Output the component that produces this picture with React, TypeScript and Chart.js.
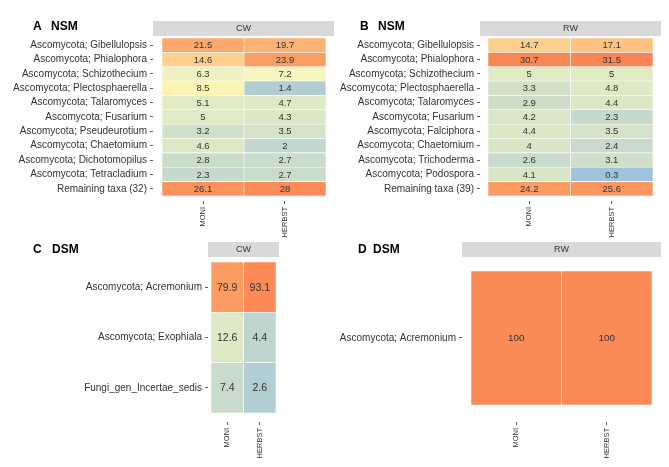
import React, { useEffect, useRef } from 'react';
import { Chart, registerables } from 'chart.js';

Chart.register(...registerables);

// ---------------- data ----------------
const samples = ['MONI', 'HERBST'];

const taxaA = [
  'Ascomycota; Gibellulopsis',
  'Ascomycota; Phialophora',
  'Ascomycota; Schizothecium',
  'Ascomycota; Plectosphaerella',
  'Ascomycota; Talaromyces',
  'Ascomycota; Fusarium',
  'Ascomycota; Pseudeurotium',
  'Ascomycota; Chaetomium',
  'Ascomycota; Dichotomopilus',
  'Ascomycota; Tetracladium',
  'Remaining taxa (32)',
];
const moniA = [21.5, 14.6, 6.3, 8.5, 5.1, 5, 3.2, 4.6, 2.8, 2.3, 26.1];
const herbstA = [19.7, 23.9, 7.2, 1.4, 4.7, 4.3, 3.5, 2, 2.7, 2.7, 28];

const taxaB = [
  'Ascomycota; Gibellulopsis',
  'Ascomycota; Phialophora',
  'Ascomycota; Schizothecium',
  'Ascomycota; Plectosphaerella',
  'Ascomycota; Talaromyces',
  'Ascomycota; Fusarium',
  'Ascomycota; Falciphora',
  'Ascomycota; Chaetomium',
  'Ascomycota; Trichoderma',
  'Ascomycota; Podospora',
  'Remaining taxa (39)',
];
const moniB = [14.7, 30.7, 5, 3.3, 2.9, 4.2, 4.4, 4, 2.6, 4.1, 24.2];
const herbstB = [17.1, 31.5, 5, 4.8, 4.4, 2.3, 3.5, 2.4, 3.1, 0.3, 25.6];

const taxaC = ['Ascomycota; Acremonium', 'Ascomycota; Exophiala', 'Fungi_gen_Incertae_sedis'];
const moniC = [79.9, 12.6, 7.4];
const herbstC = [93.1, 4.4, 2.6];

const taxaD = ['Ascomycota; Acremonium'];
const moniD = [100];
const herbstD = [100];

// ---------------- colour scales ----------------
type Stop = [number, string];
const nsmStops: Stop[] = [
  [0.3, '#9ec4dd'],
  [1.4, '#b3ced3'],
  [2.0, '#c2d8cf'],
  [2.7, '#cadcca'],
  [3.4, '#d3e1c8'],
  [4.5, '#dde8c6'],
  [5.1, '#e1eac5'],
  [6.3, '#eef1c2'],
  [7.2, '#f6f4bf'],
  [8.5, '#fdf4b1'],
  [14.6, '#fdd08e'],
  [21.5, '#fca86c'],
  [28, '#fb8b57'],
  [31.5, '#f98455'],
];
const dsmStops: Stop[] = [
  [2.6, '#b2cdd3'],
  [4.4, '#bed5d0'],
  [7.4, '#c9dccb'],
  [12.6, '#deeac6'],
  [40, '#fdd08e'],
  [79.9, '#fc9c63'],
  [93.1, '#fb8a56'],
  [100, '#fa8b57'],
];

function hexToRgb(h: string): number[] {
  const n = parseInt(h.slice(1), 16);
  return [(n >> 16) & 255, (n >> 8) & 255, n & 255];
}
function colorFor(v: number, stops: Stop[]): string {
  if (v <= stops[0][0]) return stops[0][1];
  for (let i = 1; i < stops.length; i++) {
    if (v <= stops[i][0]) {
      const [v0, c0] = stops[i - 1];
      const [v1, c1] = stops[i];
      const t = (v - v0) / (v1 - v0);
      const a = hexToRgb(c0);
      const b = hexToRgb(c1);
      const m = a.map((x, k) => Math.round(x + (b[k] - x) * t));
      return `rgb(${m[0]},${m[1]},${m[2]})`;
    }
  }
  return stops[stops.length - 1][1];
}

// ---------------- panel layout ----------------
interface PanelCfg {
  letter: string;
  word: string;
  strip: string;
  taxa: string[];
  values: number[][];
  stops: Stop[];
  box: { left: number; top: number; width: number; height: number };
  area: { left: number; right: number; top: number; bottom: number };
  xPad: [number, number];
  yPad: [number, number];
  letterX: number;
  wordX: number;
  titleBase: number;
  cellFont: number;
}

const panels: PanelCfg[] = [
  {
    letter: 'A', word: 'NSM', strip: 'CW', taxa: taxaA, values: [moniA, herbstA], stops: nsmStops,
    box: { left: 0, top: 0, width: 335, height: 240 },
    area: { left: 153, right: 334, top: 37, bottom: 201 },
    xPad: [0.11, 0.098], yPad: [0.07, 0.35],
    letterX: 33, wordX: 51, titleBase: 30, cellFont: 9.5,
  },
  {
    letter: 'B', word: 'NSM', strip: 'RW', taxa: taxaB, values: [moniB, herbstB], stops: nsmStops,
    box: { left: 335, top: 0, width: 334, height: 240 },
    area: { left: 145, right: 326, top: 37, bottom: 201 },
    xPad: [0.097, 0.097], yPad: [0.07, 0.35],
    letterX: 25, wordX: 43, titleBase: 30, cellFont: 9.5,
  },
  {
    letter: 'C', word: 'DSM', strip: 'CW', taxa: taxaC, values: [moniC, herbstC], stops: dsmStops,
    box: { left: 0, top: 235, width: 335, height: 232 },
    area: { left: 208, right: 279, top: 23, bottom: 187 },
    xPad: [0.092, 0.092], yPad: [0.079, 0.179],
    letterX: 33, wordX: 52, titleBase: 17.5, cellFont: 10.5,
  },
  {
    letter: 'D', word: 'DSM', strip: 'RW', taxa: taxaD, values: [moniD, herbstD], stops: dsmStops,
    box: { left: 335, top: 235, width: 334, height: 232 },
    area: { left: 127, right: 326, top: 23, bottom: 187 },
    xPad: [0.0994, 0.0994], yPad: [0.097, 0.127],
    letterX: 23, wordX: 38, titleBase: 17.5, cellFont: 9.8,
  },
];

const FONT = '"Liberation Sans", Arial, Helvetica, sans-serif';
const TEXT = '#333333';

function Panel({ cfg }: { cfg: PanelCfg }) {
  const ref = useRef<HTMLCanvasElement | null>(null);

  useEffect(() => {
    if (!ref.current) return;
    const n = cfg.taxa.length;

    const decor = {
      id: 'decor' + cfg.letter,
      beforeDraw(chart: any) {
        const { ctx, chartArea } = chart;
        ctx.save();
        // facet strip
        ctx.fillStyle = '#d9d9d9';
        ctx.fillRect(chartArea.left, chartArea.top - 16, chartArea.right - chartArea.left, 15);
        ctx.fillStyle = TEXT;
        ctx.font = `9px ${FONT}`;
        ctx.textAlign = 'center';
        ctx.textBaseline = 'middle';
        ctx.fillText(cfg.strip, (chartArea.left + chartArea.right) / 2, chartArea.top - 8.5);
        // panel title
        ctx.fillStyle = '#000000';
        ctx.font = `bold 12px ${FONT}`;
        ctx.textAlign = 'left';
        ctx.textBaseline = 'alphabetic';
        ctx.fillText(cfg.letter, cfg.letterX, cfg.titleBase);
        ctx.fillText(cfg.word, cfg.wordX, cfg.titleBase);
        ctx.restore();
      },
      afterDatasetsDraw(chart: any) {
        const ctx = chart.ctx;
        ctx.save();
        ctx.font = `${cfg.cellFont}px ${FONT}`;
        ctx.fillStyle = TEXT;
        ctx.textAlign = 'center';
        ctx.textBaseline = 'middle';
        chart.data.datasets.forEach((_: any, j: number) => {
          const meta = chart.getDatasetMeta(j);
          meta.data.forEach((el: any, i: number) => {
            const p = el.getCenterPoint();
            ctx.fillText(String(cfg.values[j][i]), p.x, p.y + 0.5);
          });
        });
        ctx.restore();
      },
    };

    const datasets = samples.map((s, j) => ({
      label: s,
      data: cfg.taxa.map((_, i) => ({ x: j + 0.5, y: [i, i + 1] })),
      backgroundColor: cfg.values[j].map((v) => colorFor(v, cfg.stops)),
      borderColor: '#ffffff',
      borderWidth: 0.6,
      borderSkipped: false,
      grouped: false,
      barPercentage: 1,
      categoryPercentage: 1,
    }));

    const chart = new Chart(ref.current, {
      type: 'bar',
      data: { datasets: datasets as any },
      plugins: [decor],
      options: {
        responsive: false,
        animation: false,
        events: [],
        layout: {
          padding: {
            left: 0,
            top: cfg.area.top,
            right: cfg.box.width - cfg.area.right,
            bottom: 0,
          },
        },
        plugins: {
          legend: { display: false },
          tooltip: { enabled: false },
          title: { display: false },
        },
        scales: {
          x: {
            type: 'linear',
            bounds: 'data',
            offset: false,
            min: -cfg.xPad[0],
            max: samples.length + cfg.xPad[1],
            afterBuildTicks: (scale: any) => {
              scale.ticks = samples.map((_, i) => ({ value: i + 0.5 }));
            },
            afterFit: (scale: any) => {
              scale.height = cfg.box.height - cfg.area.bottom;
            },
            ticks: {
              autoSkip: false,
              minRotation: 90,
              maxRotation: 90,
              padding: 3,
              color: TEXT,
              font: { size: 7.5, family: FONT },
              callback: (v: any) => samples[Math.round(Number(v) - 0.5)] ?? '',
            },
            grid: {
              offset: false,
              drawOnChartArea: false,
              drawTicks: true,
              tickLength: 3,
              color: TEXT,
              lineWidth: 0.8,
            },
            border: { display: false },
          },
          y: {
            type: 'linear',
            bounds: 'data',
            reverse: true,
            offset: false,
            min: -cfg.yPad[0],
            max: n + cfg.yPad[1],
            afterBuildTicks: (scale: any) => {
              scale.ticks = cfg.taxa.map((_, i) => ({ value: i + 0.5 }));
            },
            afterFit: (scale: any) => {
              scale.width = cfg.area.left;
            },
            ticks: {
              autoSkip: false,
              padding: 3,
              color: TEXT,
              font: { size: 10, family: FONT },
              callback: (v: any) => cfg.taxa[Math.round(Number(v) - 0.5)] ?? '',
            },
            grid: {
              offset: false,
              drawOnChartArea: false,
              drawTicks: true,
              tickLength: 3,
              color: TEXT,
              lineWidth: 0.8,
            },
            border: { display: false },
          },
        },
      } as any,
    });
    return () => chart.destroy();
  }, [cfg]);

  return (
    <canvas
      ref={ref}
      width={cfg.box.width}
      height={cfg.box.height}
      style={{
        position: 'absolute',
        left: cfg.box.left,
        top: cfg.box.top,
        width: cfg.box.width,
        height: cfg.box.height,
      }}
    />
  );
}

export default function App() {
  return (
    <div
      style={{
        position: 'absolute',
        left: 0,
        top: 0,
        width: 669,
        height: 467,
        background: '#ffffff',
        overflow: 'hidden',
      }}
    >
      {panels.map((p) => (
        <Panel key={p.letter} cfg={p} />
      ))}
    </div>
  );
}
